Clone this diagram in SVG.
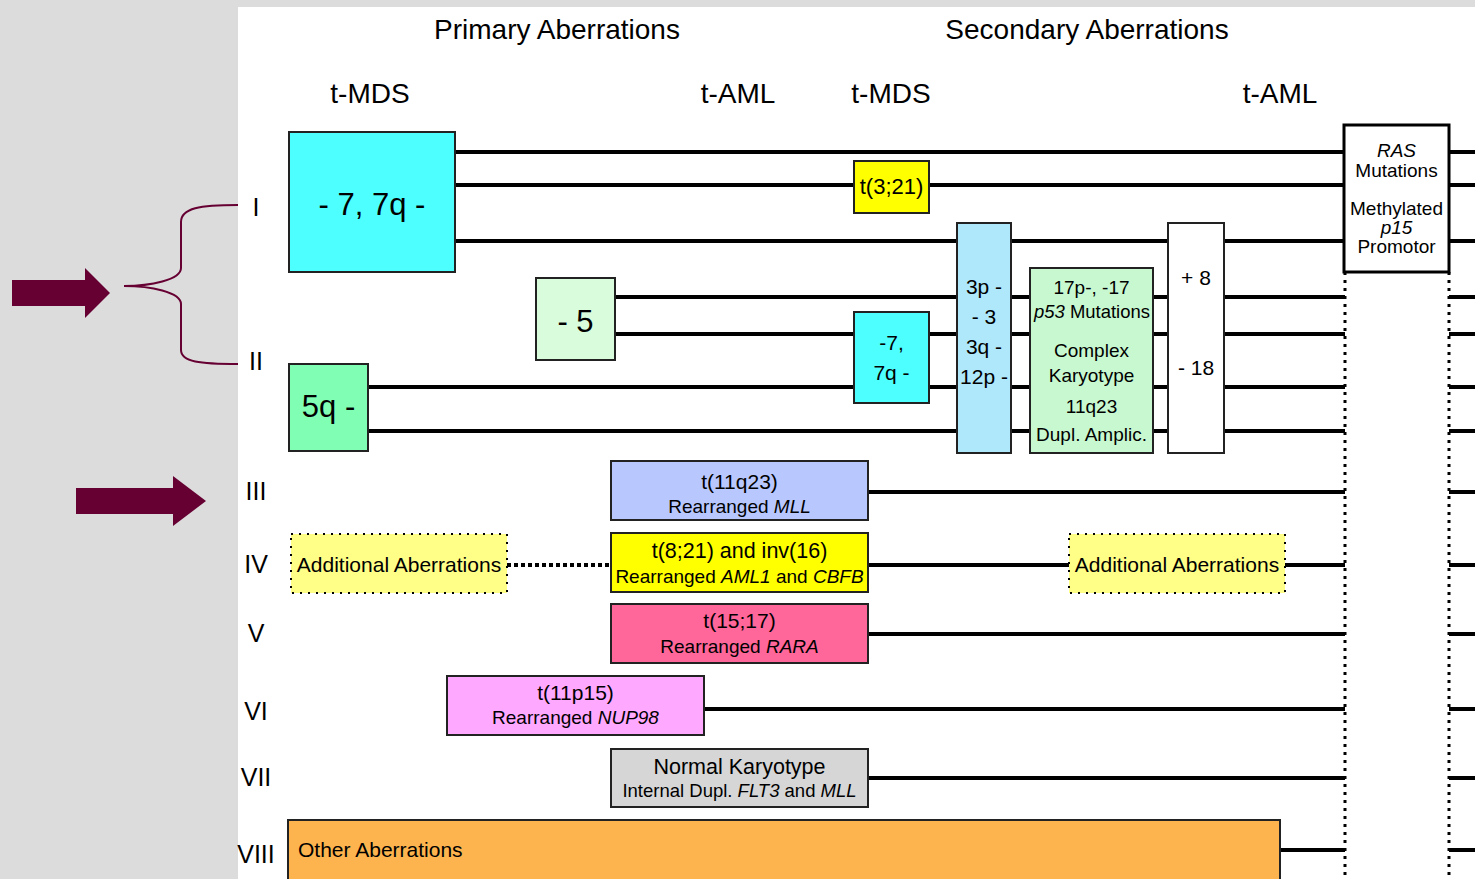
<svg xmlns="http://www.w3.org/2000/svg" width="1475" height="879" viewBox="0 0 1475 879">
<style>
text{font-family:"Liberation Sans",Arial,Helvetica,sans-serif;fill:#000;text-anchor:middle}
.hd{font-size:28px}
.rn{font-size:25px}
.big{font-size:31px}
.m{font-size:21px}
.s{font-size:19px}
.box{stroke:#222;stroke-width:2}
.ln{stroke:#000;stroke-width:4;fill:none}
.vd{stroke:#000;stroke-width:3;stroke-dasharray:3 5;fill:none}
.add{fill:#ffff88;stroke:#000;stroke-width:2;stroke-dasharray:2 6}
.mar{fill:#660033}
</style>
<rect x="0" y="0" width="1475" height="879" fill="#dcdcdc"/>
<rect x="238" y="7" width="1237" height="872" fill="#ffffff"/>

<g id="headers">
<text class="hd" x="557" y="39">Primary Aberrations</text>
<text class="hd" x="1087" y="39">Secondary Aberrations</text>
<text class="hd" x="370" y="103">t-MDS</text>
<text class="hd" x="738" y="103">t-AML</text>
<text class="hd" x="891" y="103">t-MDS</text>
<text class="hd" x="1280" y="103">t-AML</text>
</g>

<g id="row-labels">
<text class="rn" x="256" y="216">I</text>
<text class="rn" x="256" y="370">II</text>
<text class="rn" x="256" y="500">III</text>
<text class="rn" x="256" y="573">IV</text>
<text class="rn" x="256" y="642">V</text>
<text class="rn" x="256" y="720">VI</text>
<text class="rn" x="256" y="786">VII</text>
<text class="rn" x="256" y="863">VIII</text>
</g>

<g id="pointers">
<path class="mar" d="M12,280 H85 V268 L110,293 L85,318 V306 H12 Z"/>
<path class="mar" d="M76,488 H173 V476 L206,501 L173,526 V514 H76 Z"/>
<path d="M238,205 C200,205 181,208 181,222 V268 C181,280 150,286 124,286 C150,286 181,292 181,304 V350 C181,362 200,364 238,364" fill="none" stroke="#660033" stroke-width="2"/>
</g>

<g id="connectors">
<path class="ln" d="M455,152 H1345 M1449,152 H1475"/>
<path class="ln" d="M455,185 H1345 M1449,185 H1475"/>
<path class="ln" d="M455,241 H1345 M1449,241 H1475"/>
<path class="ln" d="M615,297 H1345 M1449,297 H1475"/>
<path class="ln" d="M615,334 H1345 M1449,334 H1475"/>
<path class="ln" d="M368,387 H1345 M1449,387 H1475"/>
<path class="ln" d="M368,431 H1345 M1449,431 H1475"/>
<path class="ln" d="M868,492 H1345 M1449,492 H1475"/>
<path class="ln" d="M868,565 H1345 M1449,565 H1475"/>
<path d="M507,565 H611" stroke="#000" stroke-width="4" stroke-dasharray="4 3" fill="none"/>
<path class="ln" d="M868,634 H1345 M1449,634 H1475"/>
<path class="ln" d="M704,709 H1345 M1449,709 H1475"/>
<path class="ln" d="M868,778 H1345 M1449,778 H1475"/>
<path class="ln" d="M1280,850 H1345 M1449,850 H1475"/>
<path class="vd" d="M1345,272 V879"/>
<path class="vd" d="M1449,272 V879"/>
</g>

<g id="n-7-7q">
<rect class="box" x="289" y="132" width="166" height="140" fill="#4dffff"/>
<text class="big" x="372" y="215">- 7, 7q -</text>
</g>
<g id="n-5">
<rect class="box" x="536" y="278" width="79" height="82" fill="#d8fcdc"/>
<text class="big" x="575.5" y="332">- 5</text>
</g>
<g id="n5q">
<rect class="box" x="289" y="364" width="79" height="87" fill="#80ffb4"/>
<text class="big" x="328.5" y="417">5q -</text>
</g>
<g id="n-t3-21">
<rect class="box" x="854" y="161" width="75" height="52" fill="#ffff00"/>
<text x="891.5" y="194" style="font-size:22px">t(3;21)</text>
</g>
<g id="n-7-small">
<rect class="box" x="854" y="312" width="75" height="91" fill="#4dffff"/>
<text class="m" x="891.5" y="350">-7,</text>
<text class="m" x="891.5" y="380">7q -</text>
</g>
<g id="n-3p">
<rect class="box" x="957" y="223" width="54" height="230" fill="#aee8fa"/>
<text class="m" x="984" y="294">3p -</text>
<text class="m" x="984" y="324">- 3</text>
<text class="m" x="984" y="354">3q -</text>
<text class="m" x="984" y="384">12p -</text>
</g>
<g id="n-17p">
<rect class="box" x="1030" y="268" width="123" height="185" fill="#c8f8d0"/>
<text class="s" x="1091.5" y="294">17p-, -17</text>
<text class="s" x="1092" y="318" textLength="116" lengthAdjust="spacingAndGlyphs"><tspan font-style="italic">p53</tspan> Mutations</text>
<text class="s" x="1091.5" y="357">Complex</text>
<text class="s" x="1091.5" y="382">Karyotype</text>
<text class="s" x="1091.5" y="413">11q23</text>
<text class="s" x="1091.5" y="441">Dupl. Amplic.</text>
</g>
<g id="n-plus8">
<rect class="box" x="1168" y="223" width="56" height="230" fill="#ffffff"/>
<text class="m" x="1196" y="285">+ 8</text>
<text class="m" x="1196" y="375">- 18</text>
</g>
<g id="n-ras">
<rect x="1344" y="125" width="105" height="147" fill="#ffffff" stroke="#000" stroke-width="3"/>
<text class="s" x="1396.5" y="157" font-style="italic">RAS</text>
<text class="s" x="1396.5" y="177">Mutations</text>
<text class="s" x="1396.5" y="215">Methylated</text>
<text class="s" x="1396.5" y="234" font-style="italic">p15</text>
<text class="s" x="1396.5" y="253">Promotor</text>
</g>

<g id="n-11q23">
<rect class="box" x="611" y="461" width="257" height="59" fill="#b8c8ff"/>
<text class="m" x="739.5" y="489">t(11q23)</text>
<text class="s" x="739.5" y="513">Rearranged <tspan font-style="italic">MLL</tspan></text>
</g>
<g id="n-add-left">
<rect class="add" x="291" y="534" width="216" height="59"/>
<text class="m" x="399" y="572">Additional Aberrations</text>
</g>
<g id="n-t8-21">
<rect class="box" x="611" y="533" width="257" height="59" fill="#ffff00"/>
<text x="739.5" y="558" style="font-size:21.5px">t(8;21) and inv(16)</text>
<text class="s" x="739.5" y="583">Rearranged <tspan font-style="italic">AML1</tspan> and <tspan font-style="italic">CBFB</tspan></text>
</g>
<g id="n-add-right">
<rect class="add" x="1069" y="534" width="216" height="59"/>
<text class="m" x="1177" y="572">Additional Aberrations</text>
</g>
<g id="n-t15-17">
<rect class="box" x="611" y="604" width="257" height="59" fill="#ff6699"/>
<text class="m" x="739.5" y="628">t(15;17)</text>
<text class="s" x="739.5" y="653">Rearranged <tspan font-style="italic">RARA</tspan></text>
</g>
<g id="n-t11p15">
<rect class="box" x="447" y="676" width="257" height="59" fill="#ffa8ff"/>
<text class="m" x="575.5" y="700">t(11p15)</text>
<text class="s" x="575.5" y="724">Rearranged <tspan font-style="italic">NUP98</tspan></text>
</g>
<g id="n-normal">
<rect class="box" x="611" y="749" width="257" height="58" fill="#d6d6d6"/>
<text x="739.5" y="774" style="font-size:21.5px">Normal Karyotype</text>
<text x="739.5" y="797" style="font-size:18.5px">Internal Dupl. <tspan font-style="italic">FLT3</tspan> and <tspan font-style="italic">MLL</tspan></text>
</g>
<g id="n-other">
<rect class="box" x="288" y="820" width="992" height="64" fill="#fdb44e"/>
<text class="m" x="298" y="857" style="text-anchor:start">Other Aberrations</text>
</g>
</svg>
